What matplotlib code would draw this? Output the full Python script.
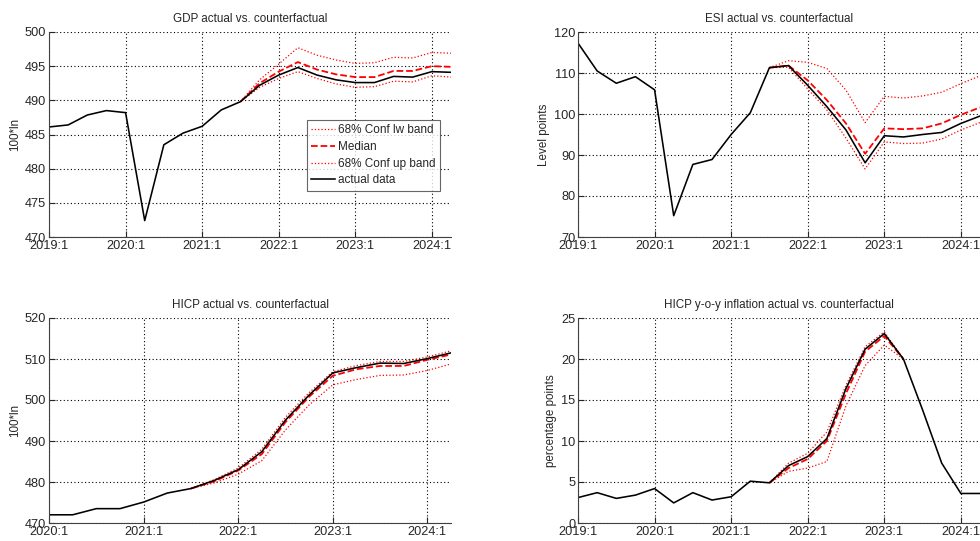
"""Counterfactual panels: GDP, ESI, HICP level and HICP y-o-y, actual vs. model bands."""
import matplotlib
matplotlib.use("Agg")
import matplotlib.pyplot as plt

# quarterly series, 2019:1 .. 2024:2 (HICP level starts 2020:1)
START_2019 = 2019.0
START_2020 = 2020.0
BAND_START = 2021.5  # 2021:3, where the counterfactual departs from the data

gdp_actual = [486.1, 486.4, 487.85, 488.5, 488.2, 472.4, 483.5, 485.2, 486.2, 488.6, 489.8,
              492.2, 493.7, 494.8, 493.7, 493.0, 492.6, 492.6, 493.5, 493.4, 494.2, 494.1]
gdp_median = [489.8, 492.5, 494.2, 495.6, 494.5, 493.8, 493.4, 493.4, 494.3, 494.3, 495.0, 494.9]
gdp_up = [489.8, 493.0, 495.3, 497.7, 496.6, 495.9, 495.4, 495.5, 496.3, 496.2, 497.0, 496.9]
gdp_lw = [489.8, 491.9, 493.2, 494.2, 493.2, 492.4, 491.9, 492.0, 492.8, 492.7, 493.6, 493.4]

esi_actual = [117.3, 110.5, 107.5, 109.1, 105.9, 75.2, 87.7, 88.9, 95.0, 100.3, 111.3,
              111.8, 107.0, 101.8, 96.1, 88.1, 94.7, 94.4, 95.0, 95.5, 97.7, 99.5]
esi_median = [111.3, 111.8, 108.2, 103.4, 97.7, 90.3, 96.5, 96.3, 96.5, 97.7, 99.8, 101.6]
esi_up = [111.3, 113.0, 112.6, 111.1, 105.8, 97.9, 104.3, 103.9, 104.4, 105.3, 107.4, 109.3]
esi_lw = [111.3, 111.4, 106.1, 101.0, 94.1, 86.6, 93.2, 92.8, 92.9, 93.9, 96.1, 97.9]

hicp_actual = [472.0, 472.0, 473.5, 473.5, 475.1, 477.3, 478.4, 480.4, 483.0, 487.4, 495.1,
               501.2, 506.6, 507.9, 509.0, 508.9, 510.1, 511.5]
hicp_median = [478.4, 480.2, 482.8, 486.8, 494.6, 500.8, 505.9, 507.5, 508.3, 508.3, 509.8, 511.1]
hicp_up = [478.4, 480.6, 483.4, 488.0, 495.8, 501.8, 506.9, 508.4, 509.4, 509.4, 510.5, 512.0]
hicp_lw = [478.4, 479.8, 481.9, 485.2, 492.7, 498.8, 503.7, 505.0, 506.0, 506.1, 507.2, 508.8]

yoy_actual = [3.1, 3.7, 3.0, 3.4, 4.2, 2.45, 3.7, 2.8, 3.2, 5.1, 4.9,
              7.0, 8.1, 10.3, 16.4, 21.2, 23.1, 20.0, 13.8, 7.3, 3.6, 3.6]
yoy_median = [4.9, 6.7, 7.8, 10.0, 15.8, 20.9, 22.8, 20.0]
yoy_up = [4.9, 7.3, 8.5, 11.1, 16.8, 21.5, 23.3, 20.0]
yoy_lw = [4.9, 6.3, 6.7, 7.5, 14.3, 19.2, 21.7, 20.0]

TEXT = "#262626"
plt.rcParams["font.family"] = ["Liberation Sans", "DejaVu Sans"]


def _quarters(start, n):
    return [start + i / 4 for i in range(n)]


def _panel(ax, title, ylabel, start, actual, lw, med, up, yticks, xyears, legend=False):
    xb = _quarters(BAND_START, len(med))
    ax.plot(xb, lw, ":", color="red", lw=0.9, label="68% Conf lw band")
    ax.plot(xb, med, "--", color="red", lw=1.3, label="Median")
    ax.plot(xb, up, ":", color="red", lw=0.9, label="68% Conf up band")
    ax.plot(_quarters(start, len(actual)), actual, "-", color="black", lw=1.15, label="actual data")

    ax.set_xlim(start, 2024.25)
    ax.set_xticks(xyears, [f"{y}:1" for y in xyears])
    ax.set_ylim(yticks[0], yticks[-1])
    ax.set_yticks(yticks)
    ax.grid(True, linestyle=(0, (1, 2.2)), color="black", lw=0.8)
    for side in ("top", "right"):
        ax.spines[side].set_visible(False)
    for side in ("left", "bottom"):
        ax.spines[side].set_color("#404040")
    ax.tick_params(direction="in", length=4, labelsize=9.2, colors=TEXT, pad=2)
    ax.set_title(title, fontsize=8.4, color=TEXT, pad=7)
    ax.set_ylabel(ylabel, fontsize=8.4, color=TEXT, labelpad=3)
    if legend:
        leg = ax.legend(loc="upper right", bbox_to_anchor=(0.972, 0.57), fontsize=8.5,
                        frameon=True, fancybox=False, handlelength=2.0, handletextpad=0.3,
                        borderpad=0.35, labelspacing=0.4, borderaxespad=0)
        leg.get_frame().set_edgecolor("#404040")
        leg.get_frame().set_linewidth(0.8)
        for t in leg.get_texts():
            t.set_color(TEXT)


def main():
    fig = plt.figure(figsize=(9.8, 5.41), dpi=100)
    w, h = 402 / 980, 205 / 541
    xl, xr = 49 / 980, 578 / 980
    yt, yb = 1 - 237 / 541, 1 - 523 / 541
    years19 = list(range(2019, 2025))
    years20 = list(range(2020, 2025))

    _panel(fig.add_axes([xl, yt, w, h]), "GDP actual vs. counterfactual", "100*ln", START_2019,
           gdp_actual, gdp_lw, gdp_median, gdp_up, list(range(470, 501, 5)), years19, legend=True)
    _panel(fig.add_axes([xr, yt, w, h]), "ESI actual vs. counterfactual", "Level points", START_2019,
           esi_actual, esi_lw, esi_median, esi_up, list(range(70, 121, 10)), years19)
    _panel(fig.add_axes([xl, yb, w, h]), "HICP actual vs. counterfactual", "100*ln", START_2020,
           hicp_actual, hicp_lw, hicp_median, hicp_up, list(range(470, 521, 10)), years20)
    _panel(fig.add_axes([xr, yb, w, h]), "HICP y-o-y inflation actual vs. counterfactual",
           "percentage points", START_2019, yoy_actual, yoy_lw, yoy_median, yoy_up,
           list(range(0, 26, 5)), years19)

    fig.savefig("out.png", dpi=100)


if __name__ == "__main__":
    main()
